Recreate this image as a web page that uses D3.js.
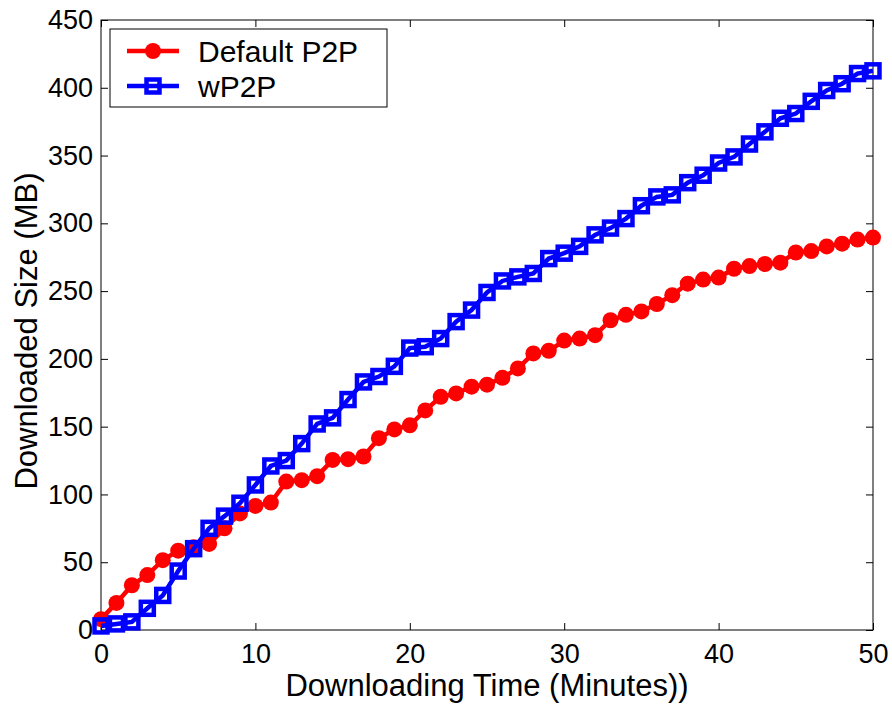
<!DOCTYPE html>
<html>
<head>
<meta charset="utf-8">
<script src="https://cdn.jsdelivr.net/npm/d3@7"></script>
<style>
   body { margin: 0; background: #fff; }
   svg text { font-family: "Liberation Sans", Arial, Helvetica, sans-serif; fill: #000; }
</style>
</head>
<body>
<div id="chart"></div>
<script>
var w = 892;
var h = 704;
var plotLeft = 101;
var plotRight = 873;
var plotTop = 20;
var plotBottom = 630;

// data
var minutes = [0, 1, 2, 3, 4, 5, 6, 7, 8, 9, 10, 11, 12, 13, 14, 15, 16, 17, 18, 19, 20,
   21, 22, 23, 24, 25, 26, 27, 28, 29, 30, 31, 32, 33, 34, 35, 36, 37, 38, 39, 40,
   41, 42, 43, 44, 45, 46, 47, 48, 49, 50];
var defaultP2P = [8, 20, 33, 40.5, 51.5, 58.5, 61, 63.5, 75, 86, 91.5, 94, 109.5, 110.5,
   113.5, 125.5, 126, 128, 141.5, 148, 151, 162, 172, 174.5, 179.5, 181, 186, 193, 204,
   206, 213.5, 215, 217.5, 228.5, 232.5, 235, 240.5, 247, 255.5, 258.5, 260, 266.5,
   268.5, 270, 271, 278.5, 279.5, 283, 285, 288, 289.5];
var wP2P = [3, 4.5, 6, 16, 25.5, 43.5, 60, 75, 84, 93.5, 107, 121, 125, 137.5, 152, 156.5,
   170, 183, 187, 194.5, 208, 209, 215, 227.5, 236, 249, 257.5, 260.5, 263, 274, 278,
   283, 291.5, 296.5, 303.5, 313, 319.5, 321, 330, 335.5, 344.5, 349, 358.5, 367.5,
   377.5, 381, 390, 398, 403, 410.5, 412.5];
var seriesNames = ["Default P2P", "wP2P"];
var xTicks = [0, 10, 20, 30, 40, 50];
var yTicks = [0, 50, 100, 150, 200, 250, 300, 350, 400, 450];

var x = d3.scaleLinear().domain([0, 50]).range([plotLeft, plotRight]);
var y = d3.scaleLinear().domain([0, 450]).range([plotBottom, plotTop]);

var svg = d3.select("#chart")
            .append("svg")
            .attr("width", w)
            .attr("height", h);

svg.append("rect")
   .attr("width", w)
   .attr("height", h)
   .attr("fill", "#fff");

// matlab style axes: ticks inside on all four sides
var styleAxis = function(g, fontSize) {
   g.select(".domain").remove();
   g.selectAll(".tick line").attr("stroke", "#000").attr("stroke-width", 1);
   g.selectAll(".tick text").attr("font-size", fontSize);
}

svg.append("g")
   .attr("transform", "translate(0," + plotBottom + ")")
   .call(d3.axisBottom(x).tickValues(xTicks).tickSize(-7).tickPadding(14))
   .call(styleAxis, 27);

svg.append("g")
   .attr("transform", "translate(0," + plotTop + ")")
   .call(d3.axisTop(x).tickValues(xTicks).tickSize(-7).tickFormat(""))
   .call(styleAxis, 27);

svg.append("g")
   .attr("transform", "translate(" + plotLeft + ",0)")
   .call(d3.axisLeft(y).tickValues(yTicks).tickSize(-7).tickPadding(8))
   .call(styleAxis, 27);

svg.append("g")
   .attr("transform", "translate(" + plotRight + ",0)")
   .call(d3.axisRight(y).tickValues(yTicks).tickSize(-7).tickFormat(""))
   .call(styleAxis, 27);

svg.append("rect")
   .attr("x", plotLeft)
   .attr("y", plotTop)
   .attr("width", plotRight - plotLeft)
   .attr("height", plotBottom - plotTop)
   .attr("fill", "none")
   .attr("stroke", "#000")
   .attr("stroke-width", 1);

var line = d3.line()
             .x(function(d) { return x(d.t); })
             .y(function(d) { return y(d.v); });

var redPts = minutes.map(function(t, i) { return {t: t, v: defaultP2P[i]}; });
var bluePts = minutes.map(function(t, i) { return {t: t, v: wP2P[i]}; });

svg.append("path")
   .attr("d", line(redPts))
   .attr("fill", "none")
   .attr("stroke", "#ff0000")
   .attr("stroke-width", 4.5);

svg.append("g")
   .selectAll("circle")
   .data(redPts)
   .join("circle")
   .attr("cx", function(d) { return x(d.t); })
   .attr("cy", function(d) { return y(d.v); })
   .attr("r", 8)
   .attr("fill", "#ff0000");

svg.append("path")
   .attr("d", line(bluePts))
   .attr("fill", "none")
   .attr("stroke", "#0000ff")
   .attr("stroke-width", 4.5);

svg.append("g")
   .selectAll("rect")
   .data(bluePts)
   .join("rect")
   .attr("x", function(d) { return x(d.t) - 6.5; })
   .attr("y", function(d) { return y(d.v) - 6.5; })
   .attr("width", 13)
   .attr("height", 13)
   .attr("fill", "none")
   .attr("stroke", "#0000ff")
   .attr("stroke-width", 4.5);

// axis titles
svg.append("text")
   .attr("x", (plotLeft + plotRight) / 2)
   .attr("y", 696)
   .attr("text-anchor", "middle")
   .attr("font-size", 31)
   .text("Downloading Time (Minutes))");

svg.append("text")
   .attr("transform", "translate(37," + ((plotTop + plotBottom) / 2 + 6) + ") rotate(-90)")
   .attr("text-anchor", "middle")
   .attr("font-size", 31)
   .text("Downloaded Size (MB)");

// legend
var legend = svg.append("g");

legend.append("rect")
      .attr("x", 110)
      .attr("y", 29)
      .attr("width", 277)
      .attr("height", 78)
      .attr("fill", "#fff")
      .attr("stroke", "#000")
      .attr("stroke-width", 1);

var legendY = [51, 86];
var legendColors = ["#ff0000", "#0000ff"];

seriesNames.forEach(function(name, i) {
   legend.append("line")
         .attr("x1", 127)
         .attr("x2", 179)
         .attr("y1", legendY[i])
         .attr("y2", legendY[i])
         .attr("stroke", legendColors[i])
         .attr("stroke-width", 4.5);
   if (i == 0) {
      legend.append("circle")
            .attr("cx", 153)
            .attr("cy", legendY[i])
            .attr("r", 8)
            .attr("fill", legendColors[i]);
   } else {
      legend.append("rect")
            .attr("x", 153 - 6.5)
            .attr("y", legendY[i] - 6.5)
            .attr("width", 13)
            .attr("height", 13)
            .attr("fill", "none")
            .attr("stroke", legendColors[i])
            .attr("stroke-width", 4.5);
   }
   legend.append("text")
         .attr("x", 198)
         .attr("y", legendY[i])
         .attr("dy", "0.36em")
         .attr("font-size", 30)
         .text(name);
});
</script>
</body>
</html>
